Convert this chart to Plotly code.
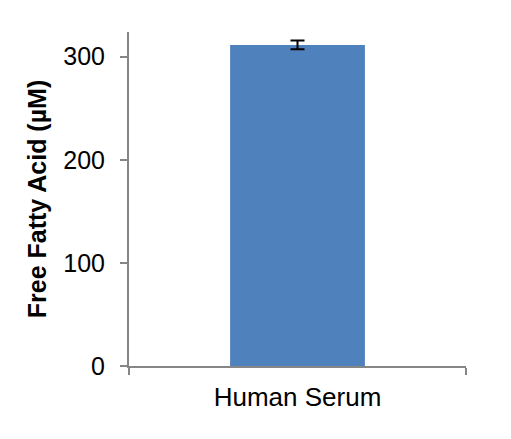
import plotly.graph_objects as go

categories = ["Human Serum"]
ffa_values = [311.5]
ffa_errors = [4.2]

fig = go.Figure(go.Bar(
    x=categories,
    y=ffa_values,
    width=0.4,
    marker=dict(color="#4F81BD", line=dict(width=0)),
    error_y=dict(type="data", array=ffa_errors, color="black", thickness=2, width=7),
))

axis_grey = "#868686"
# page body adds an 8px margin, so the figure is a bit smaller than the window
fig.update_layout(
    width=503, height=431,
    margin=dict(l=121, r=45, t=24, b=73),
    paper_bgcolor="white", plot_bgcolor="white",
    font=dict(family="Arial, Liberation Sans, sans-serif", color="black", size=25),
    showlegend=False,
    xaxis=dict(
        type="category", range=[-0.5, 0.5], tickson="boundaries",
        ticks="outside", ticklen=7, tickcolor=axis_grey, tickwidth=2,
        showline=True, linecolor=axis_grey, linewidth=2,
        tickfont=dict(size=26), ticklabelstandoff=7,
    ),
    yaxis=dict(
        range=[0, 324], tickvals=[0, 100, 200, 300],
        ticks="outside", ticklen=7, tickcolor=axis_grey, tickwidth=2,
        showline=True, linecolor=axis_grey, linewidth=2, showgrid=False,
        zeroline=False, tickfont=dict(size=25), ticklabelstandoff=10,
        title=dict(text="<b>Free Fatty Acid (µM)</b>", font=dict(size=25), standoff=10),
    ),
)

fig.write_html("out.html")
